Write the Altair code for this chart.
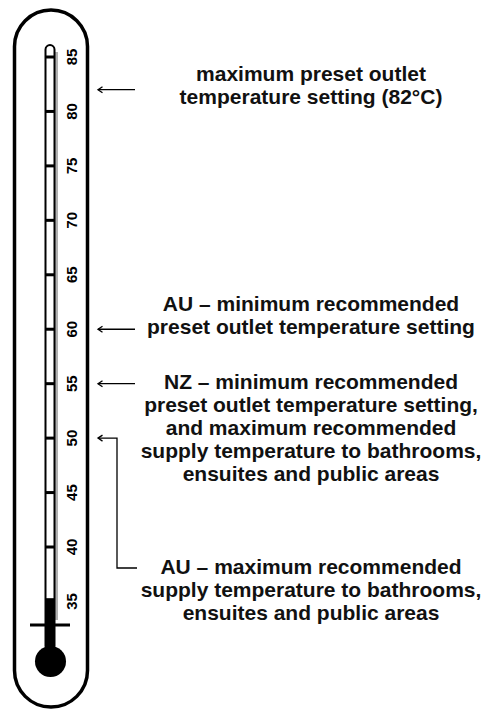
import altair as alt
import pandas as pd

# ---- values ----
TICK_LABELS = [35, 40, 45, 50, 55, 60, 65, 70, 75, 80, 85]
TICK_MARKS = [40, 45, 50, 55, 60, 65, 70, 75, 80, 85]
MERCURY_TOP = 35.3
ARROW_TEMPS = [82, 60, 55]
BRACKET_TEMPS = [50, 50, 38.07, 38.07]
TEXT_BLOCKS = [
    ["maximum preset outlet", "temperature setting (82°C)"],
    ["AU – minimum recommended", "preset outlet temperature setting"],
    ["NZ – minimum recommended", "preset outlet temperature setting,",
     "and maximum recommended", "supply temperature to bathrooms,",
     "ensuites and public areas"],
    ["AU – maximum recommended", "supply temperature to bathrooms,",
     "ensuites and public areas"],
]
TEXT_Y = [83.35, 62.22, 55.06, 38.07]

# ---- layout ----
W, H = 481, 701
PX_PER_DEG = 10.889
Y_TOP = 89.5
Y_BOTTOM = Y_TOP - H / PX_PER_DEG

xs = alt.Scale(domain=[0, W], range=[0, W], nice=False, zero=False)
ys = alt.Scale(domain=[Y_BOTTOM, Y_TOP], nice=False, zero=False)
X = lambda f: alt.X(f, type="quantitative", scale=xs, axis=None)
Y = lambda f: alt.Y(f, type="quantitative", scale=ys, axis=None)

FONT = "Liberation Sans"

capsule = alt.Chart(alt.Data(values=[{"x": 6.5, "x2": 79.5, "y": 89.32, "y2": 25.3}])).mark_rect(
    fill="white", stroke="black", strokeWidth=3.5, cornerRadius=36.5
).encode(x=X("x"), x2="x2", y=Y("y"), y2="y2")

shadow = alt.Chart(alt.Data(values=[{"x": 48.5, "y": 85.46, "y2": 33.3}])).mark_rule(
    color="#b0b0b0", strokeWidth=3
).encode(x=X("x"), y=Y("y"), y2="y2")

tube = alt.Chart(alt.Data(values=[{"x": 37.5, "x2": 46.5, "y": 86.1, "y2": 30.5}])).mark_rect(
    fill="white", stroke="black", strokeWidth=2, cornerRadius=4.5
).encode(x=X("x"), x2="x2", y=Y("y"), y2="y2")

mercury = alt.Chart(alt.Data(values=[{"x": 37.5, "x2": 46.5, "y": MERCURY_TOP, "y2": 30.5}])).mark_rect(
    color="black"
).encode(x=X("x"), x2="x2", y=Y("y"), y2="y2")

bulb = alt.Chart(alt.Data(values=[{"x": 42.5, "y": 29.49}])).mark_point(
    shape="circle", filled=True, color="black", size=962, opacity=1
).encode(x=X("x"), y=Y("y"))

crossbar = alt.Chart(alt.Data(values=[{"x": 22, "x2": 62, "y": 32.84}])).mark_rule(
    color="black", strokeWidth=3
).encode(x=X("x"), x2="x2", y=Y("y"))

ticks = alt.Chart(pd.DataFrame({"t": TICK_MARKS})).mark_rule(
    color="black", strokeWidth=3
).encode(x=alt.value(38), x2=alt.value(46.5), y=Y("t"))

labels = alt.Chart(pd.DataFrame({"t": TICK_LABELS})).mark_text(
    angle=270, font=FONT, fontSize=15, fontWeight="bold", color="black",
    align="center", baseline="middle"
).encode(x=alt.value(63.5), y=Y("t"), text=alt.Text("t:Q", format="d"))

arrows = alt.Chart(pd.DataFrame({"t": ARROW_TEMPS})).mark_rule(
    color="black", strokeWidth=1.3
).encode(x=alt.value(90), x2=alt.value(127), y=Y("t"))

bracket = alt.Chart(pd.DataFrame({
    "x": [90, 109, 109, 129], "t": BRACKET_TEMPS, "o": [0, 1, 2, 3]
})).mark_line(color="black", strokeWidth=1.3, strokeJoin="miter").encode(
    x=X("x"), y=Y("t"), order="o:O"
)

heads = alt.Chart(pd.DataFrame({"t": ARROW_TEMPS + [BRACKET_TEMPS[0]]})).mark_point(
    shape="M1.5,-1L0,0L1.5,1", filled=False, color="black", strokeWidth=1.3,
    size=36, opacity=1
).encode(x=alt.value(90), y=Y("t"))

texts = alt.Chart(alt.Data(values=[{"lines": b, "y": y} for b, y in zip(TEXT_BLOCKS, TEXT_Y)])).mark_text(
    font=FONT, fontSize=21, fontWeight="bold", color="#111111",
    align="center", baseline="middle", lineHeight=23
).encode(x=alt.value(303), y=Y("y"), text="lines:N")

chart = alt.layer(
    capsule, shadow, tube, mercury, bulb, crossbar, ticks, labels,
    arrows, bracket, heads, texts
).properties(
    width=W, height=H, padding=0, autosize=alt.AutoSizeParams(type="none")
).configure_view(stroke=None)

chart.save("out.html", embed_options={"renderer": "svg", "actions": False})
